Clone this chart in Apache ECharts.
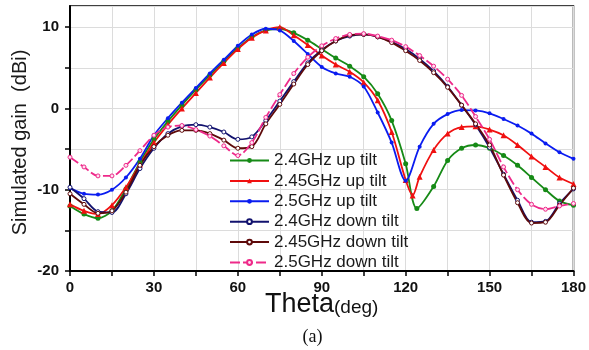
<!DOCTYPE html>
<html><head><meta charset="utf-8">
<script src="https://cdn.jsdelivr.net/npm/echarts@6/dist/echarts.min.js"></script>
<style>html,body{margin:0;padding:0;background:#fff}#c{width:589px;height:350px}</style>
</head><body><div id="c"></div>
<script>
// angles (deg)
const thetaStd = [0,5,10,15,20,25,30,35,40,45,50,55,60,65,70,75,80,85,90,95,100,105,110,115,120,125,130,135,140,145,150,155,160,165,170,175,180];
const thetaGreen = [0,5,10,15,20,25,30,35,40,45,50,55,60,65,70,75,80,85,90,95,100,105,110,115,120,124,130,135,140,145,150,155,160,165,170,175,180];
const thetaRed = [0,5,10,15,20,25,30,35,40,45,50,55,60,65,70,75,80,85,90,95,100,105,110,115,120,122.5,125,130,135,140,145,150,155,160,165,170,175,180];

// simulated gain (dBi)
const gain24Up = [-12.0,-13.0,-13.5,-12.6,-9.9,-6.6,-3.8,-1.6,0.4,2.3,4.1,5.8,7.4,8.8,9.6,9.8,9.3,8.4,7.3,6.2,5.2,3.9,1.8,-1.5,-6.8,-12.3,-9.6,-6.4,-4.9,-4.5,-4.9,-5.8,-7.0,-8.5,-10.0,-11.4,-11.9];
const gain245Up = [-11.8,-12.6,-13.0,-11.9,-9.7,-6.9,-4.2,-2.0,0.0,1.9,3.8,5.6,7.3,8.7,9.6,10.0,9.0,7.8,6.5,5.4,4.5,3.2,1.0,-2.9,-8.8,-10.7,-8.4,-5.1,-3.1,-2.3,-2.2,-2.6,-3.3,-4.5,-5.9,-7.2,-8.5,-9.3];
const gain25Up = [-9.8,-10.5,-10.6,-10.0,-8.5,-6.2,-3.3,-1.2,0.7,2.5,4.3,6.0,7.7,9.1,9.8,9.6,8.3,6.7,5.1,4.3,3.9,2.7,-0.5,-4.2,-8.9,-4.7,-1.9,-0.7,-0.2,-0.25,-0.6,-1.3,-2.1,-3.1,-4.3,-5.4,-6.2];
const gain24Down = [-9.7,-11.1,-12.7,-12.8,-10.5,-7.4,-4.9,-3.1,-2.2,-2.0,-2.3,-2.9,-3.8,-3.5,-1.5,0.9,3.3,5.6,7.2,8.3,8.9,9.1,8.8,8.2,7.3,6.1,4.6,2.7,0.4,-2.0,-4.8,-8.1,-11.3,-14.0,-13.9,-11.7,-9.9];
const gain245Down = [-10.5,-11.8,-12.9,-12.6,-10.3,-7.0,-4.7,-3.3,-2.7,-2.7,-3.1,-3.9,-4.9,-4.7,-1.9,0.5,3.0,5.4,7.1,8.3,9.0,9.1,8.8,8.1,7.1,5.9,4.4,2.6,0.4,-1.9,-4.5,-8.2,-11.6,-14.1,-14.0,-11.9,-9.8];
const gain25Down = [-6.0,-7.2,-8.3,-8.3,-7.0,-5.2,-3.3,-2.3,-2.1,-2.6,-3.4,-4.6,-5.8,-4.2,-1.1,1.7,4.3,6.3,7.7,8.6,9.1,9.2,8.9,8.4,7.6,6.5,5.2,3.6,1.6,-1.0,-3.8,-7.2,-10.0,-11.8,-12.4,-12.0,-11.7];

const seriesNames = ['2.4GHz up tilt','2.45GHz up tilt','2.5GHz up tilt','2.4GHz down tilt','2.45GHz down tilt','2.5GHz down tilt'];
const xTicks = [0,30,60,90,120,150,180];
const yTicks = [-20,-10,0,10];

const pair = (xs, ys) => xs.map((t, i) => [t, ys[i]]);
const FONT = '"Liberation Sans", Arial, Helvetica, sans-serif';

function mk(name, data, color, symbol, size, fill, dash) {
  return {
    name, type: 'line', data, smooth: 0.3,
    symbol, symbolSize: size, showSymbol: true,
    lineStyle: { color, width: 1.8, type: dash || 'solid' },
    itemStyle: { color: fill || color, borderColor: color, borderWidth: fill ? 1 : 0 },
    emphasis: { disabled: true }
  };
}

const chart = echarts.init(document.getElementById('c'), null, { renderer: 'canvas' });
chart.setOption({
  animation: false,
  backgroundColor: '#fff',
  grid: { left: 70, right: 14, top: 6, bottom: 79, show: true, borderColor: '#000', borderWidth: 1.5, backgroundColor: 'transparent' },
  xAxis: {
    type: 'value', min: 0, max: 180, interval: 15,
    axisLine: { show: true, onZero: false, lineStyle: { color: '#000', width: 2 } },
    axisTick: { show: true, inside: false, length: 5, lineStyle: { color: '#000', width: 1.5 } },
    axisLabel: { margin: 9, fontFamily: FONT, fontSize: 15, fontWeight: 'bold', color: '#111',
      formatter: v => xTicks.includes(v) ? String(v) : '' },
    splitLine: { show: true, lineStyle: { color: '#dcdcdc', width: 1 } }
  },
  yAxis: {
    type: 'value', min: -20, max: 12.6, interval: 5,
    axisLine: { show: true, onZero: false, lineStyle: { color: '#000', width: 2 } },
    axisTick: { show: true, inside: false, length: 5, lineStyle: { color: '#000', width: 1.5 } },
    axisLabel: { margin: 11, fontFamily: FONT, fontSize: 15, fontWeight: 'bold', color: '#111',
      showMaxLabel: false,
      formatter: v => yTicks.includes(v) ? String(v) : '' },
    splitLine: { show: true, lineStyle: { color: '#dcdcdc', width: 1 } }
  },
  legend: {
    orient: 'vertical', left: 229, top: 152, padding: 0,
    itemWidth: 39, itemHeight: 6, itemGap: 3.4,
    textStyle: { fontFamily: FONT, fontSize: 17, lineHeight: 17, color: '#1a1a1a' },
    data: seriesNames
  },
  graphic: [
    { type: 'text', x: 20, y: 142.5, rotation: Math.PI / 2,
      style: { text: 'Simulated gain  (dBi)', font: '20px ' + FONT, fill: '#1a1a1a', textAlign: 'center', textVerticalAlign: 'middle' } },
    { type: 'text', x: 334, y: 304.5,
      style: { text: 'Theta', font: '27px ' + FONT, fill: '#111', textAlign: 'right', textVerticalAlign: 'middle' } },
    { type: 'text', x: 334, y: 307.5,
      style: { text: '(deg)', font: '19px ' + FONT, fill: '#111', textAlign: 'left', textVerticalAlign: 'middle' } },
    { type: 'text', x: 312.5, y: 337,
      style: { text: '(a)', font: '18px "Liberation Serif", "Times New Roman", serif', fill: '#111', textAlign: 'center', textVerticalAlign: 'middle' } }
  ],
  series: [
    mk(seriesNames[0], pair(thetaGreen, gain24Up), '#168a16', 'circle', 5),
    mk(seriesNames[1], pair(thetaRed, gain245Up), '#f01010', 'triangle', 6),
    mk(seriesNames[2], pair(thetaStd, gain25Up), '#0a1cf0', 'circle', 4),
    mk(seriesNames[3], pair(thetaStd, gain24Down), '#12126e', 'circle', 4, '#ffffff'),
    mk(seriesNames[4], pair(thetaStd, gain245Down), '#5e0a0a', 'circle', 4, '#ffffff'),
    mk(seriesNames[5], pair(thetaStd, gain25Down), '#ee2a8a', 'circle', 4, '#ffe0f0', [10, 3])
  ]
});
</script></body></html>
